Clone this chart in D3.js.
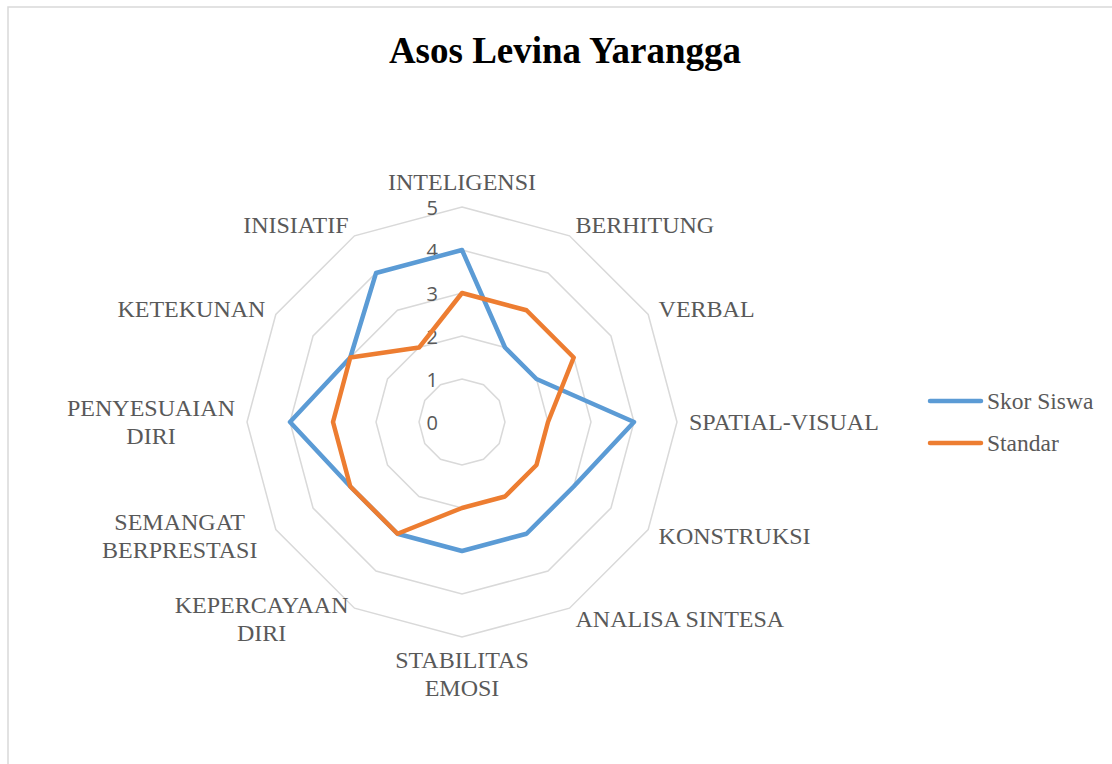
<!DOCTYPE html>
<html>
<head>
<meta charset="utf-8">
<script src="https://cdn.jsdelivr.net/npm/d3@7"></script>
<style>
  html, body { margin: 0; padding: 0; background: #ffffff; }
  svg { display: block; }
</style>
</head>
<body>
<svg id="chart" width="1112" height="764"></svg>
<script>
const title = "Asos Levina Yarangga";
const categories = [
  ["INTELIGENSI"], ["BERHITUNG"], ["VERBAL"], ["SPATIAL-VISUAL"], ["KONSTRUKSI"],
  ["ANALISA SINTESA"], ["STABILITAS", "EMOSI"], ["KEPERCAYAAN", "DIRI"],
  ["SEMANGAT", "BERPRESTASI"], ["PENYESUAIAN", "DIRI"], ["KETEKUNAN"], ["INISIATIF"]
];
const skorSiswa = [4, 2, 2, 4, 3, 3, 3, 3, 3, 4, 3, 4];
const standar   = [3, 3, 3, 2, 2, 2, 2, 3, 3, 3, 3, 2];
const seriesNames = ["Skor Siswa", "Standar"];
const seriesColors = ["#5B9BD5", "#ED7D31"];
const tickValues = [0, 1, 2, 3, 4, 5];

const svg = d3.select("#chart");
const W = 1112, H = 764;
const cx = 462, cy = 422, R = 215;

svg.append("rect").attr("x", 0).attr("y", 0).attr("width", W).attr("height", H).attr("fill", "#fff");
svg.append("rect").attr("x", 8).attr("y", 7).attr("width", 1130).attr("height", 780)
  .attr("fill", "none").attr("stroke", "#d9d9d9").attr("stroke-width", 1.5);

svg.append("text").attr("x", 565).attr("y", 63).attr("text-anchor", "middle")
  .attr("font-family", "'Liberation Serif', 'Times New Roman', serif")
  .attr("font-weight", "bold").attr("font-size", 37).attr("fill", "#000")
  .text(title);

const r = d3.scaleLinear().domain([0, 5]).range([0, R]);
const n = categories.length;
const angle = d3.scaleLinear().domain([0, n]).range([0, 2 * Math.PI]);

const g = svg.append("g").attr("transform", `translate(${cx},${cy})`);

// grid rings
const ringLine = d3.lineRadial().angle((d, i) => angle(i)).radius(d => r(d)).curve(d3.curveLinearClosed);
tickValues.filter(v => v > 0).forEach(v => {
  g.append("path").attr("d", ringLine(d3.range(n).map(() => v)))
    .attr("fill", "none").attr("stroke", "#d9d9d9").attr("stroke-width", 1.5);
});

// tick labels
g.selectAll("text.tick").data(tickValues).join("text")
  .attr("class", "tick")
  .attr("x", -24).attr("y", d => -r(d))
  .attr("text-anchor", "end").attr("dominant-baseline", "central")
  .attr("font-family", "'Open Sans', 'Liberation Sans', sans-serif")
  .attr("font-size", 20).attr("fill", "#595959")
  .text(d => d);

// series
const seriesLine = d3.lineRadial().angle((d, i) => angle(i)).radius(d => r(d)).curve(d3.curveLinearClosed);
[skorSiswa, standar].forEach((vals, si) => {
  g.append("path").attr("d", seriesLine(vals))
    .attr("fill", "none").attr("stroke", seriesColors[si]).attr("stroke-width", 4.5)
    .attr("stroke-linejoin", "round");
});

// category labels
const labelR = R + 12;
const lineH = 28;
const fontSize = 24;
const capH = 16;
categories.forEach((lines, i) => {
  const a = angle(i);
  const s = Math.sin(a), c = Math.cos(a);
  const px = labelR * s, py = -labelR * c;
  const t = g.append("text")
    .attr("font-family", "'Liberation Serif', 'Times New Roman', serif")
    .attr("font-size", fontSize).attr("fill", "#595959");
  const tspans = lines.map((ln, k) => t.append("tspan").text(ln));
  const widths = tspans.map(ts => ts.node().getComputedTextLength());
  const bw = Math.max(...widths);
  let left;
  if (Math.abs(s) < 0.01) left = px - bw / 2;
  else if (s > 0) left = px;
  else left = px - bw - (lines.length > 1 && Math.abs(c) > 0.3 && Math.abs(c) < 0.7 ? 8 : 0);
  const bh = capH + (lines.length - 1) * lineH;
  let top;
  if (c > 0.99) top = py - bh - 5;
  else if (c < -0.99) top = py + 3;
  else top = py - bh / 2;
  tspans.forEach((ts, k) => {
    ts.attr("x", left + bw / 2).attr("y", top + capH + k * lineH).attr("text-anchor", "middle");
  });
});

// legend
const legend = svg.append("g");
seriesNames.forEach((name, i) => {
  const y = 401 + i * 42;
  legend.append("line").attr("x1", 930).attr("x2", 981).attr("y1", y).attr("y2", y)
    .attr("stroke", seriesColors[i]).attr("stroke-width", 4.5).attr("stroke-linecap", "round");
  legend.append("text").attr("x", 987).attr("y", y + 7.5)
    .attr("font-family", "'Liberation Serif', 'Times New Roman', serif")
    .attr("font-size", 23.5).attr("fill", "#595959").text(name);
});
</script>
</body>
</html>
